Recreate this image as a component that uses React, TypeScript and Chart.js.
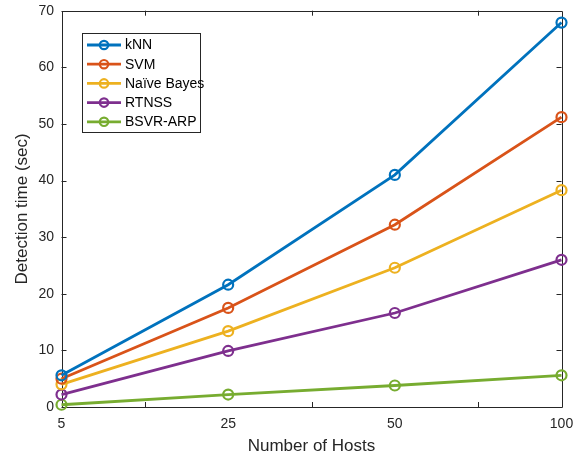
import React, { useEffect, useRef } from "react";
import { Chart, registerables } from "chart.js";

Chart.register(...registerables);

const hosts = ["5", "25", "50", "100"];
const yTicksMax = 70;
const yStep = 10;

const knn = [5.6, 21.6, 41.0, 67.9];
const svm = [5.0, 17.5, 32.2, 51.2];
const naiveBayes = [4.0, 13.4, 24.6, 38.3];
const rtnss = [2.2, 9.9, 16.6, 26.0];
const bsvrArp = [0.4, 2.2, 3.8, 5.6];

const seriesNames = ["kNN", "SVM", "Naïve Bayes", "RTNSS", "BSVR-ARP"];
const seriesColors = ["#0072BD", "#D95319", "#EDB120", "#7E2F8E", "#77AC30"];
const seriesData = [knn, svm, naiveBayes, rtnss, bsvrArp];

const AXIS = "#262626";
const FONT = "'Liberation Sans', Arial, Helvetica, sans-serif";

const boxPlugin = {
  id: "matlabBox",
  beforeDatasetsDraw(chart: any) {
    const { ctx, chartArea } = chart;
    const { left, right, top, bottom } = chartArea;
    const xs = chart.scales.x;
    const ys = chart.scales.y;
    ctx.save();
    ctx.strokeStyle = AXIS;
    ctx.lineWidth = 1;
    ctx.beginPath();
    ctx.rect(Math.round(left) + 0.5, Math.round(top) + 0.5, Math.round(right - left), Math.round(bottom - top));
    ctx.stroke();
    const tl = 5;
    ctx.beginPath();
    for (let v = 0; v <= yTicksMax; v += yStep) {
      const y = Math.round(ys.getPixelForValue(v)) + 0.5;
      ctx.moveTo(left, y);
      ctx.lineTo(left + tl, y);
      ctx.moveTo(right, y);
      ctx.lineTo(right - tl, y);
    }
    for (let i = 0; i < hosts.length - 1; i++) {
      const x = Math.round((xs.getPixelForValue(i) + xs.getPixelForValue(i + 1)) / 2) + 0.5;
      ctx.moveTo(x, bottom);
      ctx.lineTo(x, bottom - tl);
      ctx.moveTo(x, top);
      ctx.lineTo(x, top + tl);
    }
    ctx.stroke();
    ctx.restore();
  },
  afterDatasetsDraw(chart: any) {
    const { ctx } = chart;
    const bx = 82, by = 33.5, bw = 118, bh = 99;
    ctx.save();
    ctx.fillStyle = "#ffffff";
    ctx.fillRect(bx, by, bw, bh);
    ctx.strokeStyle = AXIS;
    ctx.lineWidth = 1;
    ctx.strokeRect(bx + 0.5, by, bw, bh);
    ctx.font = `14px ${FONT}`;
    ctx.textBaseline = "middle";
    ctx.textAlign = "left";
    chart.data.datasets.forEach((ds: any, i: number) => {
      const y = 45 + i * 19.2;
      ctx.strokeStyle = ds.borderColor;
      ctx.lineWidth = 2.8;
      ctx.beginPath();
      ctx.moveTo(87, y);
      ctx.lineTo(121, y);
      ctx.stroke();
      ctx.lineWidth = 2.2;
      ctx.beginPath();
      ctx.arc(104, y, 4.2, 0, Math.PI * 2);
      ctx.stroke();
      ctx.fillStyle = "#000000";
      ctx.fillText(ds.label, 125, y + 0.5);
    });
    ctx.restore();
  },
};

export default function App() {
  const ref = useRef<HTMLCanvasElement>(null);
  useEffect(() => {
    if (!ref.current) return;
    const chart = new Chart(ref.current, {
      type: "line",
      data: {
        labels: hosts,
        datasets: seriesData.map((d, i) => ({
          label: seriesNames[i],
          data: d,
          borderColor: seriesColors[i],
          backgroundColor: "rgba(0,0,0,0)",
          borderWidth: 2.8,
          pointRadius: 5,
          pointBorderWidth: 2.2,
          pointBackgroundColor: "rgba(0,0,0,0)",
          pointBorderColor: seriesColors[i],
          tension: 0,
          clip: false,
        })),
      },
      options: {
        responsive: false,
        animation: false,
        layout: { padding: { left: 0, top: 10.7, right: 18.5, bottom: 0 } },
        plugins: { legend: { display: false }, tooltip: { enabled: false } },
        scales: {
          x: {
            type: "category",
            offset: false,
            grid: { display: false, drawTicks: false },
            border: { display: false },
            ticks: { color: AXIS, font: { size: 14, family: FONT }, padding: 9, maxRotation: 0, autoSkip: false },
            title: { display: true, text: "Number of Hosts", color: AXIS, font: { size: 17, family: FONT }, padding: { top: 0, bottom: 0 } },
            afterFit: (s: any) => { s.height = 50; s.paddingLeft = 0; s.paddingRight = 0; },
          },
          y: {
            type: "linear",
            min: 0,
            max: yTicksMax,
            grid: { display: false, drawTicks: false },
            border: { display: false },
            ticks: { stepSize: yStep, color: AXIS, font: { size: 14, family: FONT }, padding: 7.5 },
            title: { display: true, text: "Detection time (sec)", color: AXIS, font: { size: 17, family: FONT }, padding: { top: 12, bottom: 0 } },
            afterFit: (s: any) => { s.width = 61.5; s.paddingTop = 0; s.paddingBottom = 0; },
          },
        },
      },
      plugins: [boxPlugin],
    });
    return () => chart.destroy();
  }, []);
  return (
    <div style={{ position: "absolute", left: 0, top: 0, width: 580, height: 457, background: "#fff" }}>
      <canvas ref={ref} width={580} height={457} style={{ display: "block" }} />
    </div>
  );
}
